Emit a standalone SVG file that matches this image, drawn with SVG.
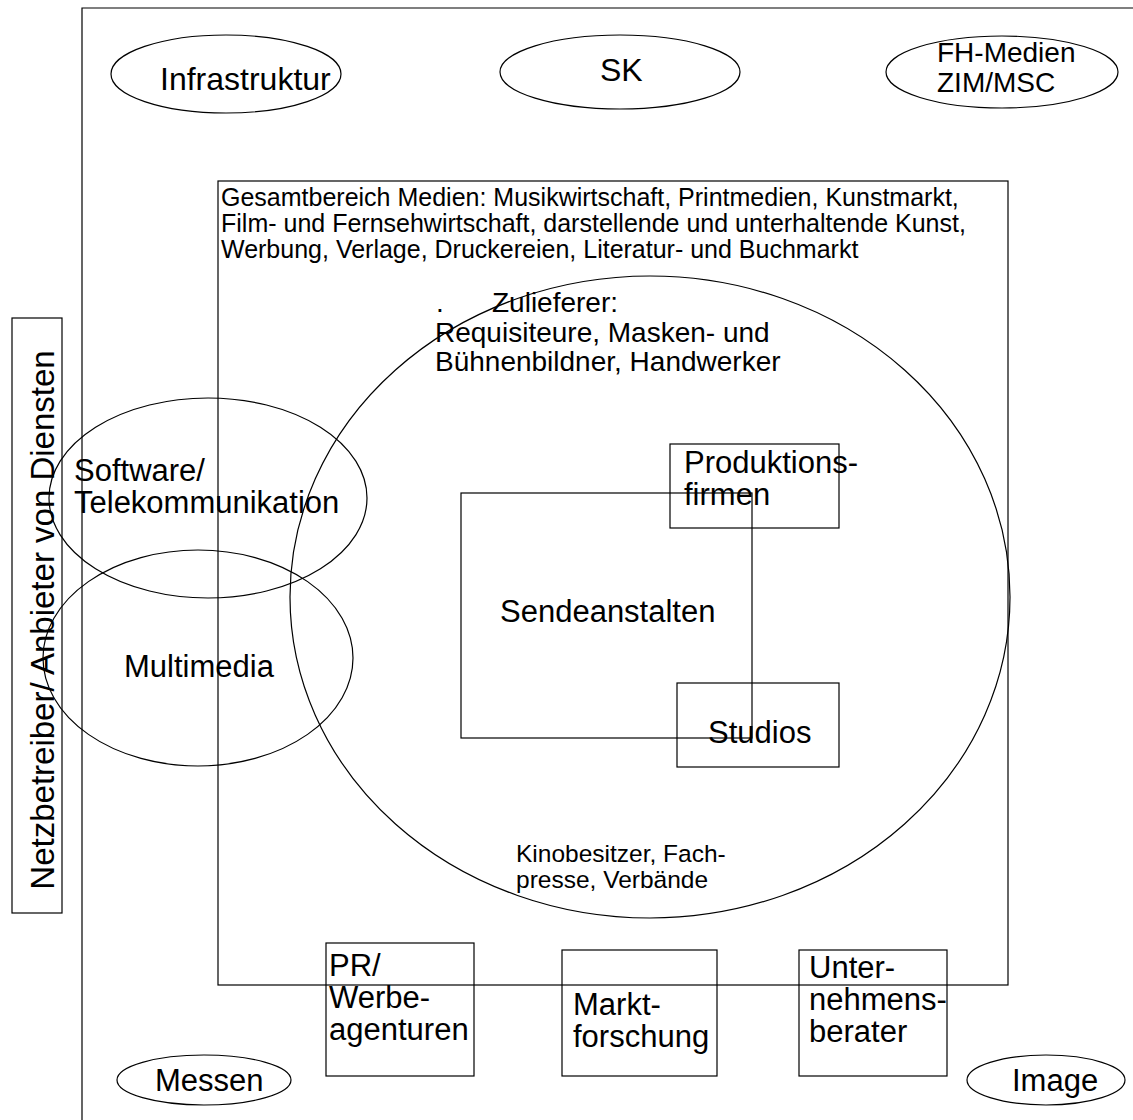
<svg xmlns="http://www.w3.org/2000/svg" width="1133" height="1120" viewBox="0 0 1133 1120">
<style>
.s{fill:none;stroke:#000;stroke-width:1.2}
text{font-family:"Liberation Sans",Arial,sans-serif;fill:#000}
.f31{font-size:31px}
.f32{font-size:32px}
.f28{font-size:28px}
.f25{font-size:25px}
.mid{text-anchor:middle}
</style>
<rect width="1133" height="1120" fill="#fff"/>
<g id="frame"><path class="s" d="M82,1120 V8 H1133"/></g>
<g id="infrastruktur"><ellipse class="s" cx="226" cy="74" rx="115" ry="39"/><text class="f32" x="160" y="90">Infrastruktur</text></g>
<g id="sk"><ellipse class="s" cx="620" cy="72" rx="120" ry="37"/><text class="f32" x="600" y="81">SK</text></g>
<g id="fh-medien"><ellipse class="s" cx="1002" cy="72" rx="116" ry="36"/><text class="f28" x="937" y="62">FH-Medien</text><text class="f28" x="937" y="92">ZIM/MSC</text></g>
<g id="netzbetreiber"><rect class="s" x="12" y="318" width="50" height="595"/><text class="mid" style="font-size:33px" transform="translate(54,620) rotate(-90)">Netzbetreiber/ Anbieter von Diensten</text></g>
<g id="gesamtbereich"><rect class="s" x="218" y="181" width="790" height="804"/>
<text class="f25" x="221" y="206">Gesamtbereich Medien: Musikwirtschaft, Printmedien, Kunstmarkt,</text>
<text class="f25" x="221" y="232">Film- und Fernsehwirtschaft, darstellende und unterhaltende Kunst,</text>
<text class="f25" x="221" y="258">Werbung, Verlage, Druckereien, Literatur- und Buchmarkt</text></g>
<g id="zulieferer"><ellipse class="s" cx="650" cy="597" rx="360" ry="321"/>
<text class="f28" x="436" y="312">.</text>
<text class="f28" x="492" y="312">Zulieferer:</text>
<text class="f28" x="435" y="342">Requisiteure, Masken- und</text>
<text class="f28" x="435" y="371">Bühnenbildner, Handwerker</text>
<text style="font-size:24.5px" x="516" y="862">Kinobesitzer, Fach-</text>
<text style="font-size:24.5px" x="516" y="888">presse, Verbände</text></g>
<g id="software"><ellipse class="s" cx="208" cy="498" rx="159" ry="100"/><text class="f31" x="74" y="481">Software/</text><text class="f31" x="74" y="513">Telekommunikation</text></g>
<g id="multimedia"><ellipse class="s" cx="198" cy="658" rx="155" ry="108"/><text class="f31" x="124" y="677">Multimedia</text></g>
<g id="sendeanstalten"><rect class="s" x="461" y="493" width="291" height="245"/><text class="f31" x="500" y="622">Sendeanstalten</text></g>
<g id="produktionsfirmen"><rect class="s" x="670" y="444" width="169" height="84"/><text class="f31" x="684" y="473">Produktions-</text><text class="f31" x="684" y="505">firmen</text></g>
<g id="studios"><rect class="s" x="677" y="683" width="162" height="84"/><text class="f31" x="708" y="743">Studios</text></g>
<g id="pr"><rect class="s" x="326" y="943" width="148" height="133"/><text class="f31" x="329" y="976">PR/</text><text class="f31" x="329" y="1008">Werbe-</text><text class="f31" x="329" y="1040">agenturen</text></g>
<g id="marktforschung"><rect class="s" x="562" y="950" width="155" height="126"/><text class="f31" x="573" y="1015">Markt-</text><text class="f31" x="573" y="1047">forschung</text></g>
<g id="unternehmensberater"><rect class="s" x="799" y="950" width="148" height="126"/><text class="f31" x="809" y="978">Unter-</text><text class="f31" x="809" y="1010">nehmens-</text><text class="f31" x="809" y="1042">berater</text></g>
<g id="messen"><ellipse class="s" cx="204" cy="1080" rx="87" ry="25"/><text class="f31" x="155" y="1091">Messen</text></g>
<g id="image"><ellipse class="s" cx="1046" cy="1080" rx="79" ry="25"/><text class="f31" x="1012" y="1091">Image</text></g>
</svg>
